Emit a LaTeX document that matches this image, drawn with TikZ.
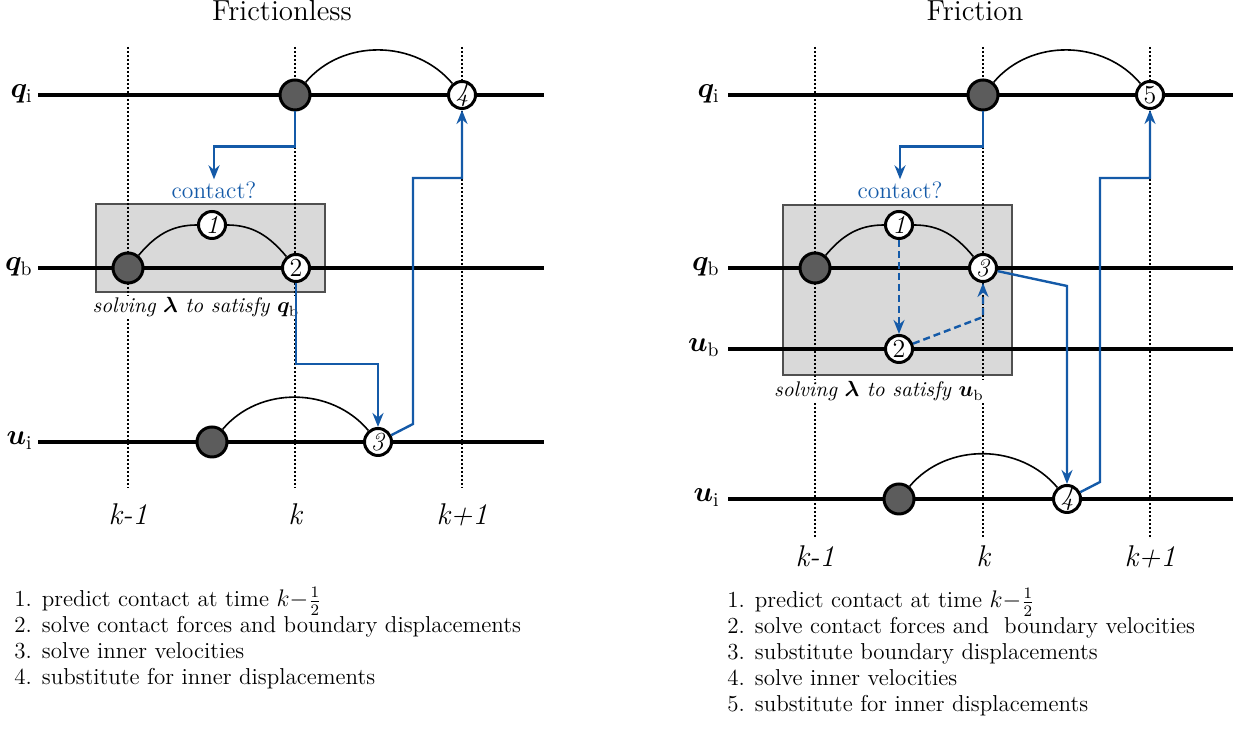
\documentclass[tikz,border=0pt]{standalone}
\usepackage{fontspec}
\usepackage{amsmath}
\usepackage{bm}
\usetikzlibrary{arrows.meta, positioning}
\definecolor{flowblue}{RGB}{20,90,168}
\definecolor{hubgray}{RGB}{92,92,92}
\definecolor{boxgray}{RGB}{217,217,217}
\definecolor{boxedge}{RGB}{80,80,80}
\tikzstyle{track} = [line width=1.6pt]
\tikzstyle{guide} = [line width=0.8pt, dash pattern=on 0.8pt off 1.2pt]
\tikzstyle{bow} = [line width=0.8pt]
\tikzstyle{solvebox} = [fill=boxgray, draw=boxedge, line width=0.6pt]
\tikzstyle{hub} = [circle, draw, line width=1.5pt, fill=hubgray, minimum size=15pt, inner sep=0pt]
\tikzstyle{stepnum} = [circle, draw, line width=1.5pt, fill=white, minimum size=13.5pt, inner sep=0pt, font=\fontsize{13}{13}\selectfont]
\tikzstyle{flow} = [-{Stealth[length=7pt, width=5.5pt]}, line width=1.2pt, draw=flowblue]
\tikzstyle{cue} = [text=flowblue, inner sep=1pt, font=\fontsize{11.8}{12}\selectfont]
\tikzstyle{note} = [fill=white, inner sep=1pt, font=\fontsize{10.6}{11}\selectfont\itshape]
\tikzstyle{paneltitle} = [anchor=base, font=\fontsize{14.5}{15}\selectfont]
\tikzstyle{klabel} = [anchor=base, font=\fontsize{15}{15}\selectfont\itshape]
\tikzstyle{rowlabel} = [anchor=base east, inner sep=0pt, font=\fontsize{14}{14}\selectfont]
\tikzstyle{listtext} = [anchor=base west, inner sep=0pt, font=\fontsize{11.5}{13}\selectfont]

\begin{document}
\begin{tikzpicture}[x=0.5pt, y=0.5pt]
    \useasboundingbox (0,0) rectangle (1240,731);

    % frictionless
    \node[paneltitle] (titleL) at (282,710) {Frictionless};
    \draw[solvebox] (96,439) rectangle (325,527);
    \foreach \x/\t [count=\i] in {128/k-1, 295/k, 462/k+1} {
        \draw[guide] (\x,684) -- (\x,243);
        \node[klabel] (kL\i) at (\x,206) {\t};
    }
    \foreach \y/\v/\s [count=\i] in {636/q/i, 463/q/b, 289/u/i} {
        \node[rowlabel] (rowL\i) at (33,\y-3) {$\bm{\v}_\mathrm{\s}$};
        \draw[track] (38,\y) -- (544,\y);
    }
    \node[hub] (hubL1) at (295,636) {};
    \node[stepnum] (nL4) at (462,636) {\textit{4}};
    \node[hub] (hubL2) at (128,463) {};
    \node[stepnum] (nL1) at (212,506) {\textit{1}};
    \node[stepnum] (nL2) at (296,463) {2};
    \node[hub] (hubL3) at (212,289) {};
    \node[stepnum] (nL3) at (378,289) {\textit{3}};
    \draw[bow] (hubL1) to[out=50, in=130] (nL4);
    \draw[bow] (hubL2) to[out=50, in=180] (nL1);
    \draw[bow] (nL1) to[out=0, in=130] (nL2);
    \draw[bow] (hubL3) to[out=50, in=130] (nL3);
    \node[cue, anchor=south] (cueL) at (214,530) {contact?};
    \node[note, anchor=base] (noteL) at (196,418) {solving $\bm{\lambda}$ to satisfy $\bm{q}_\mathrm{b}$};
    \draw[flow] (hubL1.south) -- ++(0,-35) -| (cueL.north);
    \draw[flow] (nL2.south) -- ++(0,-81) -| (nL3.north);
    \coordinate (bendL1) at (413,307);
    \coordinate (bendL2) at (413,553);
    \draw[flow] (nL3) -- (bendL1) -- (bendL2) -| (nL4.south);
    \foreach \s [count=\i] in {{1. predict contact at time $k{-}\frac{1}{2}$},
        {2. solve contact forces and boundary displacements},
        {3. solve inner velocities},
        {4. substitute for inner displacements}}
        \node[listtext] (itemL\i) at (14,150-26*\i) {\s};

    % friction
    \node[paneltitle] (titleR) at (975,710) {Friction};
    \draw[solvebox] (783,356) rectangle (1012,526);
    \foreach \x/\t [count=\i] in {815/k-1, 983/k, 1150/k+1} {
        \draw[guide] (\x,684) -- (\x,193);
        \node[klabel] (kR\i) at (\x,164) {\t};
    }
    \foreach \y/\v/\s [count=\i] in {636/q/i, 463/q/b, 382/u/b, 232/u/i} {
        \node[rowlabel] (rowR\i) at (720,\y-3) {$\bm{\v}_\mathrm{\s}$};
        \draw[track] (728,\y) -- (1233,\y);
    }
    \node[hub] (hubR1) at (983,636) {};
    \node[stepnum] (nR5) at (1150,636) {5};
    \node[hub] (hubR2) at (815,463) {};
    \node[stepnum] (nR1) at (899,506) {\textit{1}};
    \node[stepnum] (nR3) at (983,463) {\textit{3}};
    \node[stepnum] (nR2) at (899,382) {2};
    \node[hub] (hubR3) at (899,232) {};
    \node[stepnum] (nR4) at (1067,232) {\textit{4}};
    \draw[bow] (hubR1) to[out=50, in=130] (nR5);
    \draw[bow] (hubR2) to[out=50, in=180] (nR1);
    \draw[bow] (nR1) to[out=0, in=130] (nR3);
    \draw[bow] (hubR3) to[out=50, in=130] (nR4);
    \node[cue, anchor=south] (cueR) at (900,530) {contact?};
    \node[note, anchor=base] (noteR) at (879,334) {solving $\bm{\lambda}$ to satisfy $\bm{u}_\mathrm{b}$};
    \draw[flow] (hubR1.south) -- ++(0,-35) -| (cueR.north);
    \draw[flow, dash pattern=on 3.5pt off 2pt] (nR1) -- (nR2);
    \coordinate (kinkR) at (983,414);
    \draw[flow, dash pattern=on 3.5pt off 2pt] (nR2) -- (kinkR) -- (nR3.south);
    \coordinate (bendR1) at (1067,445);
    \draw[flow] (nR3) -- (bendR1) -- (nR4.north);
    \coordinate (bendR2) at (1100,249);
    \coordinate (bendR3) at (1100,553);
    \draw[flow] (nR4) -- (bendR2) -- (bendR3) -| (nR5.south);
    \foreach \s [count=\i] in {{1. predict contact at time $k{-}\frac{1}{2}$},
        {2. solve contact forces and ~boundary velocities},
        {3. substitute boundary displacements},
        {4. solve inner velocities},
        {5. substitute for inner displacements}}
        \node[listtext] (itemR\i) at (727,149-26*\i) {\s};
\end{tikzpicture}
\end{document}
